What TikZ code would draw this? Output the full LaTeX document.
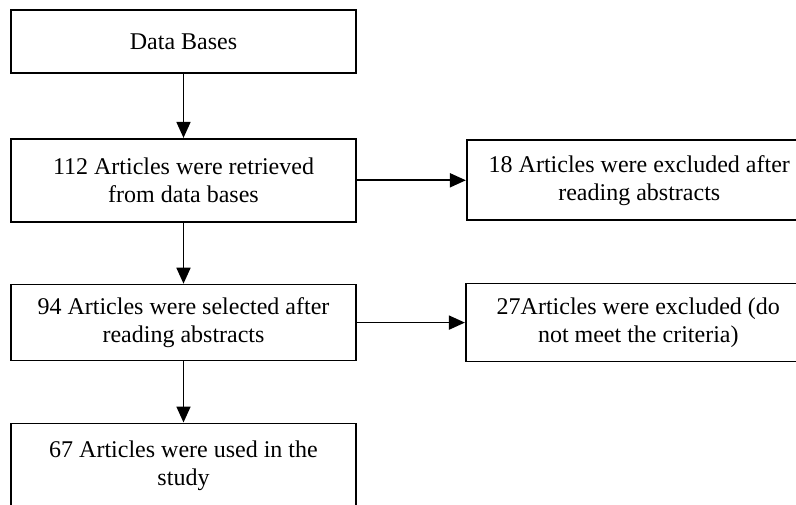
\documentclass[tikz,border=0pt]{standalone}
\usepackage{fontspec}
\setmainfont{Liberation Serif}
\usetikzlibrary{arrows.meta,positioning}
\tikzset{
  stagebox/.style={draw=black,line width=1.8pt,minimum width=345pt,align=center,font=\fontsize{24}{28}\selectfont,inner sep=4pt},
  flow/.style={-{Triangle[length=16pt,width=14pt]},line width=1.8pt}
}
\begin{document}
\begin{tikzpicture}[x=1pt,y=1pt]
  \path[use as bounding box,clip] (0,0) rectangle (796,-505);
  \node[stagebox,minimum height=63pt] (db) at (183.5,-41.5) {Data Bases};
  \node[stagebox,minimum height=83pt,below=64pt of db] (retrieved) {112 Articles were retrieved\\from data bases};
  \node[stagebox,minimum height=76pt,below=61pt of retrieved] (selected) {94 Articles were selected after\\reading abstracts};
  \node[stagebox,text depth=40pt,below=61pt of selected] (used) {\rule{0pt}{30pt}67 Articles were used in the\\study};
  \node[stagebox,minimum height=80pt,right=109pt of retrieved] (excl1) {18 Articles were excluded after\\reading abstracts};
  \node[stagebox,minimum height=78pt,right=108pt of selected] (excl2) {27Articles were excluded (do\\not meet the criteria)};
  \draw[flow] (db) -- (retrieved);
  \draw[flow] (retrieved) -- (selected);
  \draw[flow] (selected) -- (used);
  \draw[flow] (retrieved) -- (excl1);
  \draw[flow] (selected) -- (excl2);
\end{tikzpicture}
\end{document}
